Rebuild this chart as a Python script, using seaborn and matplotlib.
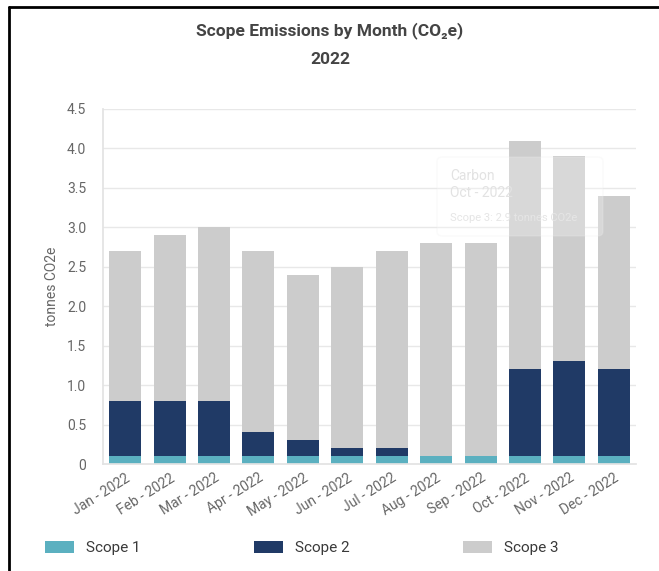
import matplotlib
matplotlib.use("Agg")
import matplotlib.pyplot as plt
from matplotlib.patches import Patch, FancyBboxPatch
from matplotlib.lines import Line2D
import numpy as np
import pandas as pd
import seaborn as sns

months = ["Jan - 2022", "Feb - 2022", "Mar - 2022", "Apr - 2022", "May - 2022", "Jun - 2022",
          "Jul - 2022", "Aug - 2022", "Sep - 2022", "Oct - 2022", "Nov - 2022", "Dec - 2022"]
scope1 = [0.1, 0.1, 0.1, 0.1, 0.1, 0.1, 0.1, 0.1, 0.1, 0.1, 0.1, 0.1]
scope2 = [0.7, 0.7, 0.7, 0.3, 0.2, 0.1, 0.1, 0.0, 0.0, 1.1, 1.2, 1.1]
scope3 = [1.9, 2.1, 2.2, 2.3, 2.1, 2.3, 2.5, 2.7, 2.7, 2.9, 2.6, 2.2]
y_ticks = [0, 0.5, 1.0, 1.5, 2.0, 2.5, 3.0, 3.5, 4.0, 4.5]
y_tick_labels = ["0", "0.5", "1.0", "1.5", "2.0", "2.5", "3.0", "3.5", "4.0", "4.5"]

colors = {"Scope 1": "#5BB0C0", "Scope 2": "#203A66", "Scope 3": "#CCCCCC"}

sns.set_theme(style="white")
plt.rcParams["font.family"] = ["Roboto", "DejaVu Sans"]

df = pd.DataFrame({"month": months, "s1": scope1, "s2": scope2, "s3": scope3})
df["top1"] = df["s1"]
df["top2"] = df["s1"] + df["s2"]
df["top3"] = df["s1"] + df["s2"] + df["s3"]

fig = plt.figure(figsize=(6.59, 5.71), dpi=100)
ax = fig.add_axes([103 / 659, 1 - 464 / 571, 533 / 659, 355 / 571])

# stacked bars: draw cumulative totals from the top segment down
for col, name in [("top3", "Scope 3"), ("top2", "Scope 2"), ("top1", "Scope 1")]:
    sns.barplot(data=df, x="month", y=col, color=colors[name], width=0.72,
                saturation=1, ax=ax, zorder=2, linewidth=0)

ax.set_ylim(0, 4.5)
ax.set_yticks(y_ticks)
ax.set_yticklabels(y_tick_labels)
ax.yaxis.grid(True, color="#E8E8E8", linewidth=1, zorder=0)
ax.set_axisbelow(True)
for s in ["top", "right"]:
    ax.spines[s].set_visible(False)
ax.spines["left"].set_color("#E3E3E3")
ax.spines["bottom"].set_color("#E3E3E3")
ax.tick_params(axis="both", length=0, labelsize=10, labelcolor="#666666")
ax.tick_params(axis="y", pad=12)
ax.tick_params(axis="x", pad=5)
plt.setp(ax.get_xticklabels(), rotation=32, ha="right", rotation_mode="anchor")
ax.set_xlabel("")
ax.set_ylabel("tonnes CO2e", fontsize=10, color="#666666", labelpad=6)

# faded hover tooltip
tip = FancyBboxPatch((437 / 659, 1 - 236 / 571), 166 / 659, 79 / 571,
                     boxstyle="round,pad=0,rounding_size=0.008",
                     transform=fig.transFigure, facecolor="white", alpha=0.25,
                     edgecolor="#EDEDED", linewidth=1, zorder=5)
fig.patches.append(tip)
fig.text(450 / 659, 1 - 176 / 571, "Carbon", fontsize=10, color="#D9D9D9", va="center")
fig.text(450 / 659, 1 - 193 / 571, "Oct - 2022", fontsize=10, color="#D9D9D9", va="center")
fig.text(450 / 659, 1 - 218 / 571, "Scope 3: 2.9 tonnes CO2e", fontsize=8, color="#DDDDDD", va="center")

# titles
fig.text(330 / 659, 1 - 31 / 571, "Scope Emissions by Month (CO\u2082e)", ha="center", va="center",
         fontsize=12.5, fontweight="bold", color="#444444")
fig.text(330 / 659, 1 - 60 / 571, "2022", ha="center", va="center",
         fontsize=12.5, fontweight="bold", color="#444444")

# legend
handles = [Patch(facecolor=colors[n], edgecolor="none", label=n) for n in ["Scope 1", "Scope 2", "Scope 3"]]
fig.legend(handles=handles, loc="center left", bbox_to_anchor=(31 / 659, 1 - 548 / 571),
           ncol=3, frameon=False, fontsize=11, labelcolor="#3A3A3A",
           handlelength=1.9, handleheight=0.8, handletextpad=0.8, columnspacing=7.4)

# frame edges
fig.add_artist(Line2D([9 / 659, 9 / 659], [0, 1 - 7 / 571], transform=fig.transFigure,
                      color="black", linewidth=2))
fig.add_artist(Line2D([9 / 659, 1], [1 - 7 / 571, 1 - 7 / 571], transform=fig.transFigure,
                      color="black", linewidth=2))

fig.savefig("out.png", dpi=100, facecolor="white")
